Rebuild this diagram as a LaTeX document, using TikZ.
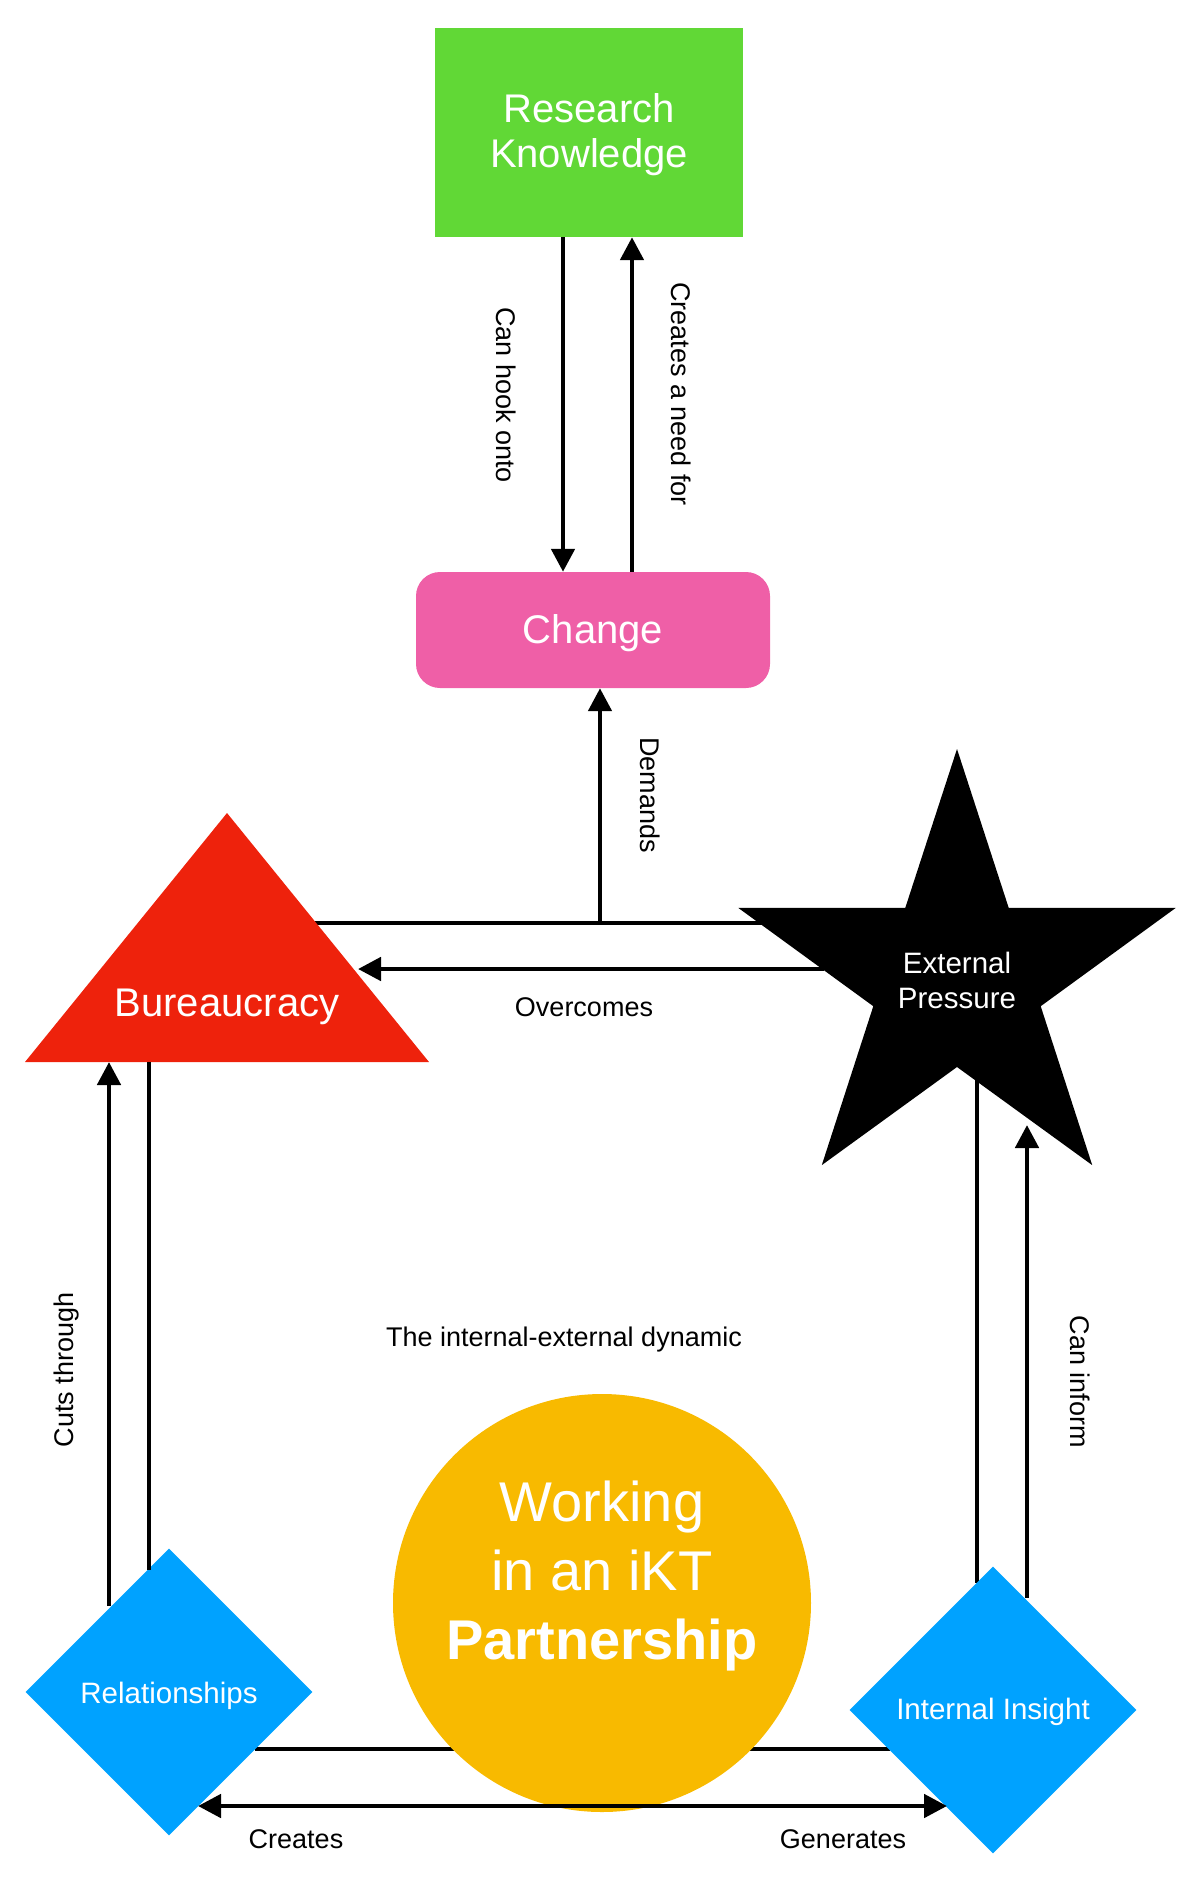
\documentclass[tikz,border=0pt]{standalone}
\usepackage{fontspec}
\setmainfont{Liberation Sans}
\usetikzlibrary{arrows.meta,shapes.geometric}
\definecolor{rkgreen}{HTML}{61D836}
\definecolor{chpink}{HTML}{EF5FA7}
\definecolor{bured}{HTML}{EE220C}
\definecolor{diablue}{HTML}{00A2FF}
\definecolor{ikgold}{HTML}{F8BA00}
\begin{document}
\begin{tikzpicture}[x=1pt,y=-1pt,
  conn/.style={line width=4.8pt},
  arr/.style={conn,-{Triangle[length=23pt,width=23pt]}},
  lbl/.style={font=\fontsize{27}{32}\selectfont, inner sep=0pt},
  wtext/.style={text=white, align=center, inner sep=0pt},
  bigtext/.style={font=\fontsize{40}{45}\selectfont},
  midtext/.style={font=\fontsize{29.5}{35}\selectfont},
  dia/.style={diamond, fill=diablue, aspect=1, minimum width=287pt, minimum height=287pt, inner sep=0pt}
]
\useasboundingbox (0,0) rectangle (1200,1880);

% coordinates for connector ends
\coordinate (dj) at (600,923);
\coordinate (bl) at (314,923);
\coordinate (sl) at (762,923);
\coordinate (ov1) at (824,969);
\coordinate (ov2) at (358,969);
\coordinate (ct1) at (109,1606);
\coordinate (ct2) at (109,1062);
\coordinate (rb1) at (149,1062);
\coordinate (rb2) at (149,1570);
\coordinate (si1) at (977,1075);
\coordinate (si2) at (977,1583);
\coordinate (ci1) at (1027,1598);
\coordinate (ci2) at (1027,1125);
\coordinate (ri1) at (255,1749);
\coordinate (ri2) at (890,1749);
\coordinate (hub) at (602,1806);
\coordinate (cr) at (198,1806);
\coordinate (ge) at (947,1806);

% lines drawn behind shapes
\draw[conn] (bl) -- (sl);
\draw[conn] (si1) -- (si2);
\draw[conn] (ri1) -- (ri2);

% shapes
\node[rectangle, fill=rkgreen, minimum width=308pt, minimum height=209pt] (rk) at (589,132.5) {};
\node[wtext, bigtext] (rkt) at (589,135) {Research\\Knowledge};
\node[rectangle, rounded corners=24pt, fill=chpink, minimum width=354pt, minimum height=116pt] (ch) at (593,630) {};
\node[wtext, bigtext] (cht) at (593,633) {Change};

\fill[bured] (227,813) -- (429,1062) -- (25,1062) -- cycle;
\node[wtext, bigtext] (bur) at (227,1007) {Bureaucracy};

\fill[black] (957,749) -- (1008.7,907.8) -- (1175.7,907.9) -- (1040.7,1006.2) -- (1092.2,1165.1)
  -- (957,1067) -- (821.8,1165.1) -- (873.3,1006.2) -- (738.3,907.9) -- (905.3,907.8) -- cycle;
\node[wtext, midtext] (ext) at (957,980) {External\\Pressure};

\node[dia] (rel) at (169,1692) {};
\node[wtext, midtext] (relt) at (169,1696) {Relationships};
\node[dia] (ins) at (993,1710) {};
\node[wtext, midtext] (inst) at (993,1712) {Internal Insight};

\node[circle, fill=ikgold, minimum size=418pt, inner sep=0pt] (ikt) at (602,1603) {};
\node[wtext, font=\fontsize{56}{69}\selectfont] (iktt) at (602,1576) {Working\\in an iKT\\\textbf{Partnership}};

% connectors
\draw[arr] ([xshift=-26pt]rk.south) -- ([xshift=-30pt]ch.north);
\draw[arr] ([xshift=39pt]ch.north) -- ([xshift=43pt]rk.south);
\draw[arr] (dj) -- (ch.south -| dj);
\draw[arr] (ov1) -- (ov2);
\draw[arr] (ct1) -- (ct2);
\draw[conn] (rb1) -- (rb2);
\draw[arr] (ci1) -- (ci2);
\draw[arr] (hub) -- (cr);
\draw[arr] (hub) -- (ge);

% labels
\node[lbl, rotate=-90] (l1) at (506,395) {Can hook onto};
\node[lbl, rotate=-90] (l2) at (681,394) {Creates a need for};
\node[lbl, rotate=-90] (l3) at (650,795) {Demands};
\node[lbl] (l4) at (584,1007) {Overcomes};
\node[lbl, rotate=90] (l5) at (67,1370) {Cuts through};
\node[lbl, rotate=-90] (l6) at (1080,1382) {Can inform};
\node[lbl] (l7) at (564,1340) {The internal-external dynamic};
\node[lbl] (l8) at (296,1839) {Creates};
\node[lbl] (l9) at (843,1839) {Generates};
\end{tikzpicture}
\end{document}
